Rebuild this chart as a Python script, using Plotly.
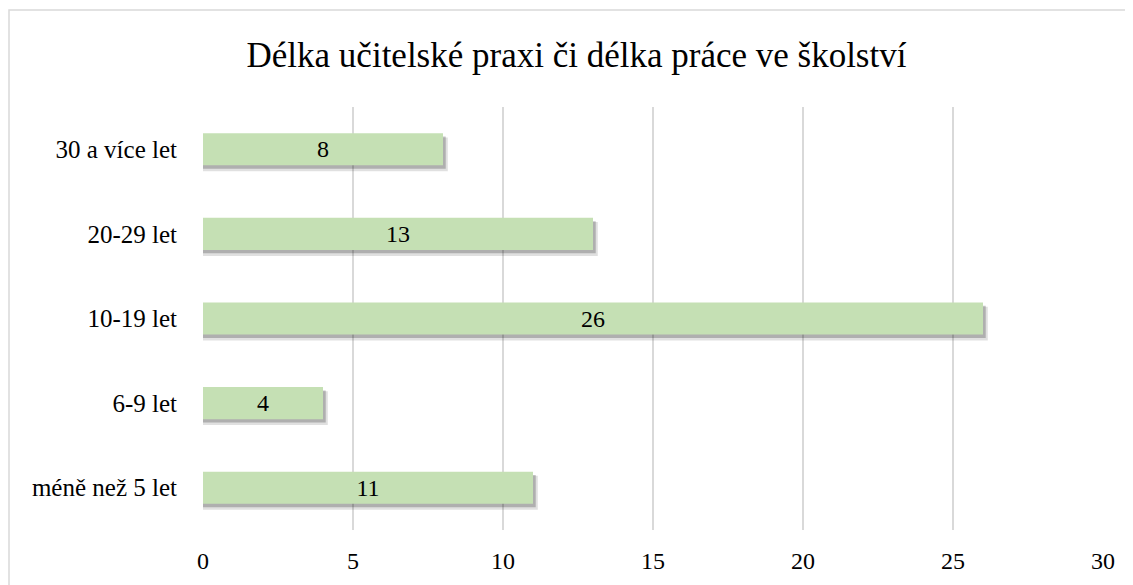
import plotly.graph_objects as go

categories = ["méně než 5 let", "6-9 let", "10-19 let", "20-29 let", "30 a více let"]
values = [11, 4, 26, 13, 8]
x_ticks = [0, 5, 10, 15, 20, 25, 30]
title_text = "Délka učitelské praxi či délka práce ve školství"

FONT = "Liberation Serif, Palatino Linotype, Book Antiqua, serif"
# page body has an 8px margin, so figure coordinates are offset by 8px
OFF = 8
W, H = 1117, 577
ML, MR, MT, MB = 195, 22, 99, 55
bar_w = 0.38

fig = go.Figure()
# soft shadow under the bars (two layers to fake a blur)
fig.add_trace(go.Bar(
    y=categories, x=[v + 0.16 for v in values], orientation="h",
    width=bar_w + 0.02, offset=-bar_w / 2 - 0.07,
    marker=dict(color="rgba(0,0,0,0.12)", line=dict(width=0)),
    hoverinfo="skip", showlegend=False,
))
fig.add_trace(go.Bar(
    y=categories, x=[v + 0.09 for v in values], orientation="h",
    width=bar_w, offset=-bar_w / 2 - 0.04,
    marker=dict(color="rgba(0,0,0,0.22)", line=dict(width=0)),
    hoverinfo="skip", showlegend=False,
))
fig.add_trace(go.Bar(
    y=categories, x=values, orientation="h",
    width=bar_w,
    marker=dict(color="#C5E0B4", line=dict(width=0)),
    text=[str(v) for v in values], textposition="inside",
    insidetextanchor="middle", textangle=0, constraintext="none",
    textfont=dict(family=FONT, size=24, color="#000000"),
    showlegend=False,
))

pw = W - ML - MR
ph = H - MT - MB
fig.add_shape(type="rect", xref="paper", yref="paper",
              x0=(9 - OFF - ML) / pw, x1=(1150 - OFF - ML) / pw,
              y0=-0.5, y1=(H - MB - (10 - OFF)) / ph,
              line=dict(color="#D9D9D9", width=1.5), fillcolor="rgba(0,0,0,0)",
              layer="below")

fig.update_layout(
    width=W, height=H,
    margin=dict(l=ML, r=MR, t=MT, b=MB, autoexpand=False),
    paper_bgcolor="white", plot_bgcolor="white",
    barmode="overlay",
    title=dict(text=title_text, x=(576.5 - OFF - ML) / pw, xref="paper",
               xanchor="center",
               y=1 - (55 - OFF) / H, yanchor="middle",
               font=dict(family=FONT, size=35, color="#000000")),
    xaxis=dict(range=[0, 30], tickvals=x_ticks, showgrid=True, automargin=False,
               gridcolor="#D9D9D9", gridwidth=1.5, zeroline=False,
               showline=False, ticks="outside", ticklen=9,
               tickcolor="rgba(0,0,0,0)",
               tickfont=dict(family=FONT, size=24, color="#000000")),
    yaxis=dict(showgrid=False, zeroline=False, showline=False, automargin=False,
               ticks="outside", ticklen=20, tickcolor="rgba(0,0,0,0)",
               tickfont=dict(family=FONT, size=25, color="#000000")),
)

fig.write_html("out.html")
